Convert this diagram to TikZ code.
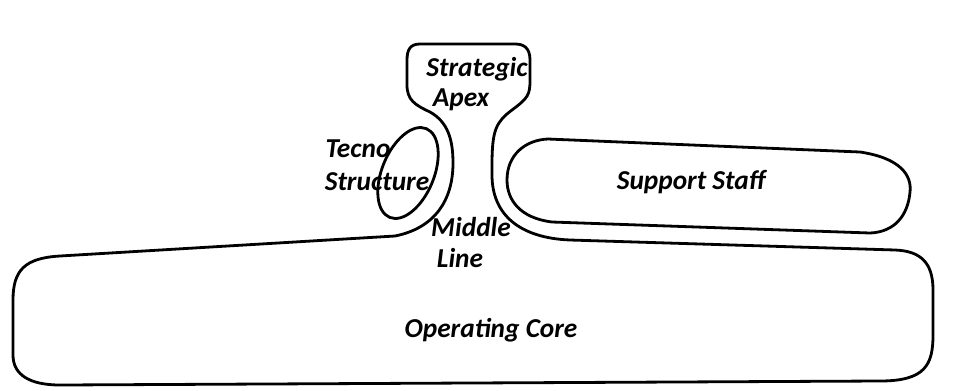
\documentclass[tikz,border=0pt]{standalone}
\usepackage{fontspec}
\setmainfont{Carlito}
\begin{document}
\begin{tikzpicture}[x=0.75pt,y=-0.75pt,
  outline/.style={draw=black,line width=2.1pt,line join=round},
  lbl/.style={font=\fontsize{20.5}{22}\selectfont\bfseries\itshape,inner sep=0pt,align=center}]
\useasboundingbox[fill=white] (0,0) rectangle (966,390);
% main outline: operating core + middle line + strategic apex
\draw[outline] (60,385) -- (880,381)
  .. controls (925,381) and (933,365) .. (933,335) -- (933,290)
  .. controls (933,262) and (920,251) .. (895,250) -- (570,240)
  .. controls (520,238) and (492,215) .. (492,175) -- (492,165)
  .. controls (492,130) and (496,122) .. (512,110)
  .. controls (528,98) and (530,95) .. (530,80) -- (530,60)
  .. controls (530,48) and (524,44) .. (515,44) -- (420,44)
  .. controls (410,44) and (407,50) .. (407,60) -- (407,85)
  .. controls (407,100) and (415,105) .. (430,112)
  .. controls (448,122) and (453,140) .. (453,163)
  .. controls (453,200) and (435,228) .. (395,236) -- (60,256)
  .. controls (25,258) and (13,270) .. (13,300) -- (13,355)
  .. controls (13,375) and (30,385) .. (60,385) -- cycle;
% support staff
\draw[outline] (548,139) -- (860,152)
  .. controls (900,158) and (912,175) .. (910,192)
  .. controls (908,215) and (895,232) .. (870,233) -- (552,222)
  .. controls (520,218) and (507,200) .. (507,180)
  .. controls (507,155) and (525,140) .. (548,139) -- cycle;
% techno structure
\begin{scope}[shift={(408,173)},rotate=67.6]
  \draw[outline] (0,0) ellipse [x radius=36pt,y radius=19.5pt];
\end{scope}
% labels
\node[lbl] (sa1) at (477,69) {Strategic};
\node[lbl] (sa2) at (461,100) {Apex};
\node[lbl] (ts1) at (358,149) {Tecno};
\node[lbl] (ts2) at (377,182) {Structure};
\node[lbl] (ml1) at (471,227) {Middle};
\node[lbl] (ml2) at (460,258) {Line};
\node[lbl] (ss) at (691,182) {Support Staff};
\node[lbl] (oc) at (491,330) {Operating Core};
\end{tikzpicture}
\end{document}
